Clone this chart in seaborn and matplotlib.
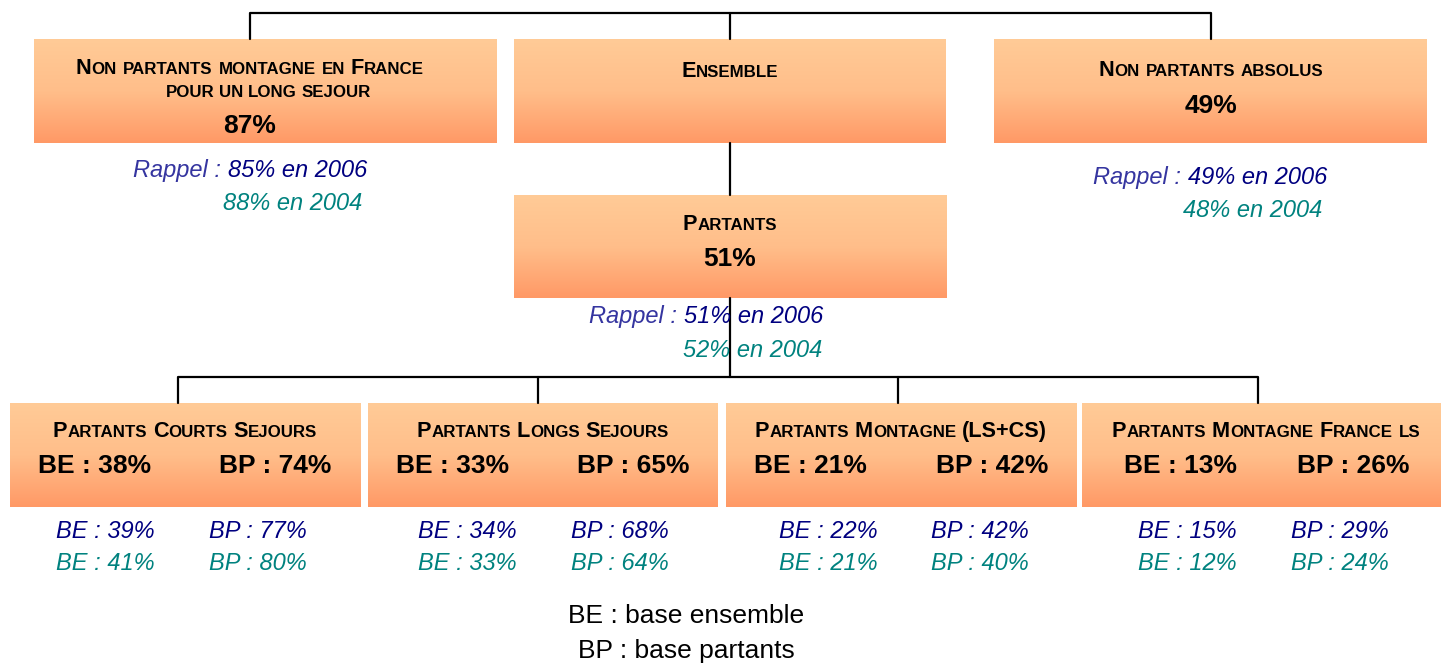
import matplotlib
matplotlib.use("Agg")
import matplotlib.pyplot as plt
import seaborn as sns
import numpy as np
import pandas as pd
from matplotlib.colors import LinearSegmentedColormap

# ---------------- data ----------------
top_titles = ["Non partants montagne en France", "Ensemble", "Non partants absolus"]
top_subtitles = ["pour un long sejour", "", ""]
top_values = ["87%", "", "49%"]
top_rappel_2006 = ["85%", None, "49%"]
top_rappel_2004 = ["88%", None, "48%"]

partants_title = "Partants"
partants_value = "51%"
partants_2006 = "51%"
partants_2004 = "52%"

seg_titles = ["Partants Courts Sejours", "Partants Longs Sejours",
              "Partants Montagne (LS+CS)", "Partants Montagne France ls"]
seg_be = [38, 33, 21, 13]
seg_bp = [74, 65, 42, 26]
seg_be_2006 = [39, 34, 22, 15]
seg_bp_2006 = [77, 68, 42, 29]
seg_be_2004 = [41, 33, 21, 12]
seg_bp_2004 = [80, 64, 40, 24]

legend_lines = ["BE : base ensemble", "BP : base partants"]

# ---------------- style ----------------
sns.set_theme(style="white")
plt.rcParams['font.family'] = ['Liberation Sans', 'DejaVu Sans']

NAVY = "#000080"
SLATE = "#3535A0"
TEAL = "#00827F"
TOP_C = "#FFCB97"
BOT_C = "#FF9966"
cmap = LinearSegmentedColormap.from_list("box", [TOP_C, "#FFBE8A", BOT_C])

W, H = 1441, 663
fig = plt.figure(figsize=(W / 100, H / 100), dpi=100)
ax = fig.add_axes([0, 0, 1, 1])
renderer = fig.canvas.get_renderer()

BIG, SMALL = 15.6, 12.2
PCT = 19
RAP = 17


def text_width(s, **kw):
    t = ax.text(0, 0, "|" + s + "|", **kw)
    w1 = t.get_window_extent(renderer).width
    t.remove()
    t = ax.text(0, 0, "||", **kw)
    w2 = t.get_window_extent(renderer).width
    t.remove()
    return w1 - w2


def draw_runs(x, y, runs, ha="center"):
    """runs: list of (text, kwargs) drawn side by side on a common baseline."""
    widths = [text_width(s, **kw) for s, kw in runs]
    total = sum(widths)
    if ha == "center":
        cx = x - total / 2
    elif ha == "right":
        cx = x - total
    else:
        cx = x
    for (s, kw), w in zip(runs, widths):
        lead = len(s) - len(s.lstrip(" "))
        off = text_width(" " * lead, **kw) if lead else 0
        if s.strip():
            ax.text(cx + off, y, s.strip(" "), ha="left", va="baseline", zorder=4, **kw)
        cx += w


def smallcaps(s, big=BIG, small=SMALL):
    runs = []
    for ch in s:
        is_small = ch.islower()
        if runs and runs[-1][1] == is_small:
            runs[-1][0] += ch.upper()
        else:
            runs.append([ch.upper(), is_small])
    return [(r, dict(fontsize=small if sm else big, fontweight="bold", color="black"))
            for r, sm in runs]


def box(x0, y0, x1, y1):
    grad = np.linspace(0, 1, 200).reshape(-1, 1)
    ax.imshow(grad, extent=(x0, x1, y1, y0), cmap=cmap, aspect="auto",
              origin="upper", zorder=1, interpolation="bilinear")


def rappel(x, y1, y2, x2, v06, v04):
    draw_runs(x, y1, [("Rappel : ", dict(fontsize=RAP, style="italic", color=SLATE)),
                      (f"{v06} en 2006", dict(fontsize=RAP, style="italic", color=NAVY))],
              ha="left")
    draw_runs(x2, y2, [(f"{v04} en 2004", dict(fontsize=RAP, style="italic", color=TEAL))],
              ha="left")


# ---------------- connectors (seaborn) ----------------
conn_x = [[250, 250, 1211, 1211], [730, 730], [730, 730], [730, 730],
          [178, 178, 1258, 1258], [538, 538], [898, 898]]
conn_y = [[39, 13, 13, 39], [13, 39], [143, 195], [298, 377],
          [403, 377, 377, 403], [377, 403], [377, 403]]
rows = []
for i, (xs, ys) in enumerate(zip(conn_x, conn_y)):
    for j, (xx, yy) in enumerate(zip(xs, ys)):
        rows.append(dict(seg=i, order=j, x=xx, y=yy))
conn = pd.DataFrame(rows)
sns.lineplot(data=conn, x="x", y="y", units="seg", estimator=None, sort=False,
             color="black", lw=1.6, ax=ax, zorder=2)

# ---------------- top boxes ----------------
top_boxes = [(34, 39, 497, 143), (514, 39, 946, 143), (994, 39, 1427, 143)]
for b in top_boxes:
    box(*b)

draw_runs(250, 74, smallcaps(top_titles[0]))
draw_runs(268, 97, smallcaps(top_subtitles[0], big=SMALL))
draw_runs(250, 133, [(top_values[0], dict(fontsize=PCT, fontweight="bold", color="black"))])
rappel(133, 177, 210, 223, top_rappel_2006[0], top_rappel_2004[0])

draw_runs(730, 77, smallcaps(top_titles[1]))

draw_runs(1211, 76, smallcaps(top_titles[2]))
draw_runs(1211, 113, [(top_values[2], dict(fontsize=PCT, fontweight="bold", color="black"))])
rappel(1093, 184, 217, 1183, top_rappel_2006[2], top_rappel_2004[2])

# ---------------- partants ----------------
box(514, 195, 947, 298)
draw_runs(730, 230, smallcaps(partants_title))
draw_runs(730, 266, [(partants_value, dict(fontsize=PCT, fontweight="bold", color="black"))])
rappel(589, 323, 357, 683, partants_2006, partants_2004)

# ---------------- segment boxes ----------------
seg_boxes = [(10, 403, 361, 507), (368, 403, 718, 507), (726, 403, 1077, 507), (1082, 403, 1441, 507)]
title_cx = [185, 543, 901, 1266]
be_cx = [95, 453, 810, 1180]
bp_cx = [275, 633, 992, 1353]
be_old_cx = [105, 467, 828, 1187]
bp_old_cx = [258, 620, 980, 1340]
for i, b in enumerate(seg_boxes):
    box(*b)
    draw_runs(title_cx[i], 437, smallcaps(seg_titles[i]))
    draw_runs(be_cx[i], 473, [(f"BE : {seg_be[i]}%", dict(fontsize=PCT, fontweight="bold", color="black"))])
    draw_runs(bp_cx[i], 473, [(f"BP : {seg_bp[i]}%", dict(fontsize=PCT, fontweight="bold", color="black"))])
    draw_runs(be_old_cx[i], 538, [(f"BE : {seg_be_2006[i]}%", dict(fontsize=RAP, style="italic", color=NAVY))])
    draw_runs(bp_old_cx[i], 538, [(f"BP : {seg_bp_2006[i]}%", dict(fontsize=RAP, style="italic", color=NAVY))])
    draw_runs(be_old_cx[i], 570, [(f"BE : {seg_be_2004[i]}%", dict(fontsize=RAP, style="italic", color=TEAL))])
    draw_runs(bp_old_cx[i], 570, [(f"BP : {seg_bp_2004[i]}%", dict(fontsize=RAP, style="italic", color=TEAL))])

# ---------------- legend ----------------
draw_runs(686, 623, [(legend_lines[0], dict(fontsize=19, color="black"))])
draw_runs(686, 658, [(legend_lines[1], dict(fontsize=19, color="black"))])

ax.set_xlim(0, W)
ax.set_ylim(H, 0)
ax.axis("off")
if ax.get_legend() is not None:
    ax.get_legend().remove()
fig.savefig("out.png", dpi=100)
